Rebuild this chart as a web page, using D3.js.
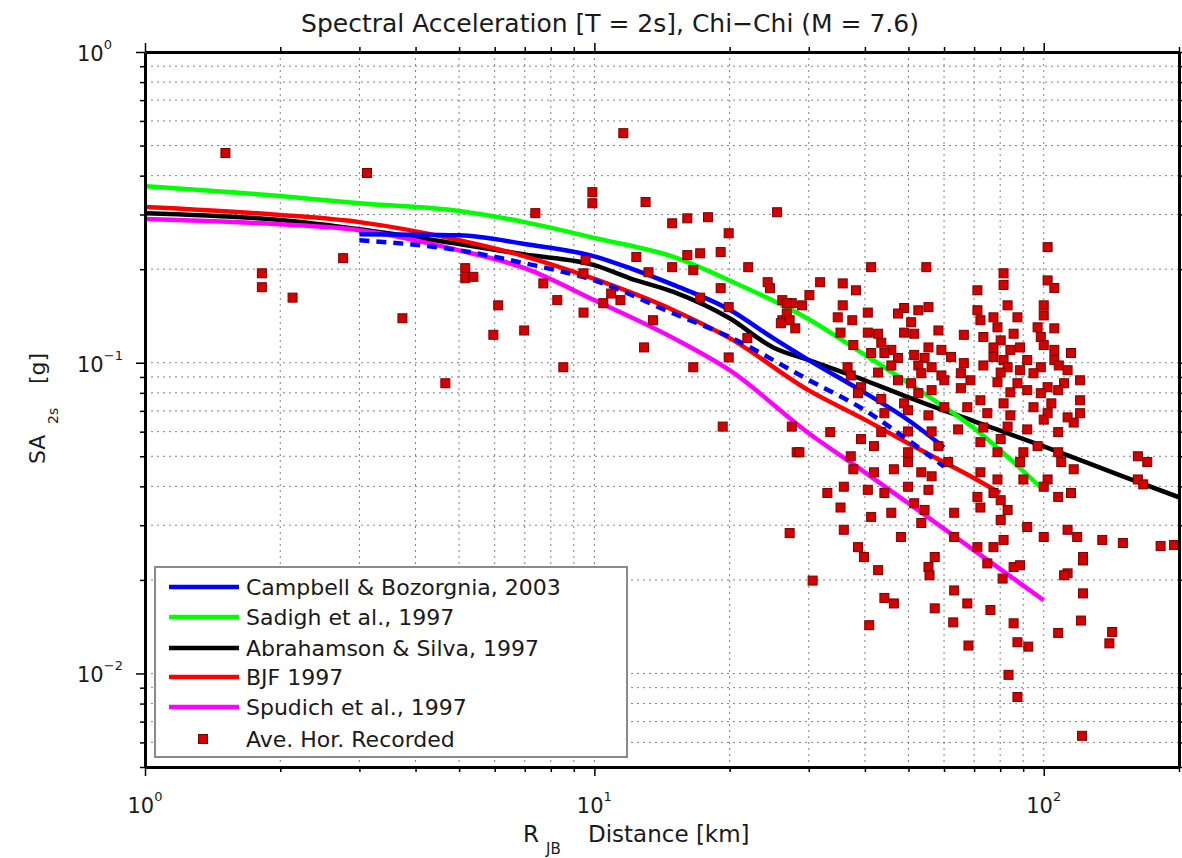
<!DOCTYPE html>
<html>
<head>
<meta charset="utf-8">
<script src="https://cdn.jsdelivr.net/npm/d3@7/dist/d3.min.js"></script>
<style>
  body { margin: 0; background: #fff; }
  svg text { font-family: "DejaVu Sans", "Open Sans", sans-serif; fill: #1a1a1a; }
</style>
</head>
<body>
<svg id="chart"></svg>
<script>
const W = 1182, H = 858
const margin = { top: 52, right: 3, bottom: 91, left: 145 }
const width = W - margin.left - margin.right
const height = H - margin.top - margin.bottom

// ---- data ----
const titleText = 'Spectral Acceleration [T = 2s], Chi\u2212Chi (M = 7.6)'
const xMajor = [1, 10, 100]
const yMajor = [0.01, 0.1, 1]
const xExp = ['0', '1', '2']
const yExp = ['\u22122', '\u22121', '0']

// Campbell & Bozorgnia 2003 (solid + dashed variant)
const cbDist = [3, 5, 7, 10, 12, 15, 20, 25, 30, 40, 50, 60]
const cbSA = [0.259, 0.257, 0.241, 0.220, 0.2015, 0.178, 0.148, 0.120, 0.102, 0.080, 0.0653, 0.0534]
const cbDashDist = [3, 5, 7, 10, 15, 20, 30, 40, 50, 60]
const cbDashSA = [0.248, 0.230, 0.209, 0.184, 0.144, 0.121, 0.088, 0.0703, 0.0563, 0.0463]
// Sadigh et al. 1997
const sadDist = [1, 2, 3, 5, 7, 10, 15, 20, 30, 40, 50, 70, 100]
const sadSA = [0.370, 0.344, 0.326, 0.308, 0.2835, 0.252, 0.219, 0.184, 0.138, 0.106, 0.086, 0.0615, 0.0389]
// Abrahamson & Silva 1997
const asDist = [1, 2, 3, 5, 7, 10, 12, 15, 20, 25, 30, 40, 50, 70, 100, 150, 200]
const asSA = [0.303, 0.288, 0.269, 0.241, 0.223, 0.206, 0.187, 0.169, 0.139, 0.112, 0.102, 0.0878, 0.0774, 0.0648, 0.0538, 0.0431, 0.0369]
// BJF 1997
const bjfDist = [1, 2, 3, 5, 7, 10, 15, 20, 30, 40, 50, 60, 70, 80]
const bjfSA = [0.317, 0.299, 0.2835, 0.248, 0.220, 0.186, 0.1476, 0.120, 0.0815, 0.0656, 0.0550, 0.0478, 0.0425, 0.0381]
// Spudich et al. 1997
const spuDist = [1, 2, 3, 5, 7, 10, 15, 20, 30, 40, 50, 70, 100]
const spuSA = [0.290, 0.279, 0.267, 0.230, 0.2015, 0.159, 0.120, 0.0946, 0.0593, 0.0444, 0.0353, 0.0249, 0.0172]

// recorded average horizontal SA [distance km, SA g]
const recorded = [
  [1.51,0.473],[3.12,0.408],[2.76,0.217],[1.82,0.194],[1.82,0.175],[2.13,0.162],[5.16,0.2015],[5.16,0.187],
  [3.74,0.139],[4.66,0.0859],[6.11,0.153],[5.96,0.123],[6.98,0.127],[7.70,0.180],[8.27,0.159],[9.46,0.145],
  [8.53,0.0967],[12.9,0.112],[16.6,0.0967],[19.3,0.0623],[27.5,0.0623],[28.2,0.0515],[27.2,0.0283],[13.5,0.137],
  [10.47,0.1555],[11.43,0.159],[17.2,0.162],[19.9,0.104],[21.9,0.120],[26.2,0.137],[5.38,0.189],[7.39,0.303],
  [9.9,0.354],[9.9,0.326],[11.6,0.548],[13.0,0.329],[14.9,0.281],[16.1,0.2915],[17.9,0.294],[25.5,0.305],
  [19.9,0.261],[12.4,0.219],[16.1,0.222],[17.2,0.225],[19.1,0.227],[14.9,0.203],[13.2,0.1955],[16.6,0.1985],
  [22.0,0.203],[24.3,0.1816],[24.6,0.1737],[19.1,0.1737],[19.9,0.151],[26.2,0.159],[27.5,0.1555],[26.8,0.144],
  [26.0,0.134],[28.0,0.129],[9.56,0.214],[9.46,0.194],[10.9,0.167],[102,0.2355],[41.3,0.203],[54.8,0.203],
  [31.8,0.1816],[35.7,0.180],[38.2,0.171],[71.2,0.171],[81.4,0.194],[81.4,0.178],[102,0.184],[105.6,0.174],
  [30.1,0.165],[26.8,0.1555],[29.0,0.153],[35.7,0.153],[40.6,0.145],[48.9,0.150],[52.6,0.1475],[55.4,0.151],
  [71.2,0.1475],[83.1,0.153],[100,0.153],[87.4,0.140],[77.3,0.140],[100,0.142],[27.2,0.137],[34.8,0.140],
  [37.5,0.137],[47.4,0.144],[50.7,0.135],[72.3,0.137],[78.9,0.130],[85.7,0.124],[96.9,0.130],[105.6,0.129],
  [35.3,0.125],[40.6,0.125],[42.8,0.124],[48.9,0.125],[51.5,0.124],[58.3,0.127],[66.4,0.123],[73.4,0.121],
  [80.2,0.118],[98.5,0.121],[37.7,0.114],[43.5,0.116],[45.8,0.110],[55.4,0.112],[59.2,0.110],[77.3,0.112],
  [84.3,0.110],[88.6,0.112],[100,0.114],[105.6,0.110],[115,0.1075],[41.3,0.1075],[44.2,0.1075],[47.4,0.1036],
  [51.5,0.106],[54.3,0.1036],[62.2,0.1044],[77.3,0.1044],[81.4,0.102],[91.9,0.102],[105.6,0.102],[36.6,0.0967],
  [45.8,0.098],[52.6,0.098],[56.3,0.0967],[66.4,0.0997],[73.4,0.098],[83.1,0.0967],[88.6,0.0946],[98.5,0.0967],
  [108,0.098],[37.2,0.091],[42.8,0.093],[53.4,0.0925],[59.2,0.091],[65.4,0.0925],[80.2,0.093],[94.9,0.0925],
  [113,0.0946],[39.2,0.0834],[47.4,0.0878],[50.7,0.0859],[60.1,0.0878],[68.7,0.0878],[78.9,0.0865],[87.4,0.0859],
  [102,0.0834],[111,0.0859],[120.5,0.0878],[38.6,0.0798],[43.5,0.0765],[52.6,0.0798],[56.3,0.0816],[65.4,0.0828],
  [72.3,0.0757],[84.3,0.0803],[91.9,0.0816],[98.5,0.0798],[107.7,0.0816],[120.5,0.0757],[48.9,0.074],[60.1,0.0719],
  [67.6,0.0719],[81.4,0.074],[94.9,0.0719],[104,0.074],[44.2,0.0688],[49.9,0.0703],[55.4,0.0677],[74.9,0.0688],
  [84.3,0.0677],[102,0.0688],[113,0.0667],[120.5,0.0688],[33.5,0.0598],[39.2,0.0568],[43.5,0.0598],[49.9,0.0601],
  [56.3,0.0601],[64.5,0.061],[73.4,0.0619],[83.1,0.0623],[91.9,0.061],[100,0.0656],[107.7,0.0598],[116.6,0.0642],
  [41.9,0.0539],[49.9,0.0515],[58.3,0.0539],[72.3,0.0555],[80.2,0.0568],[90.1,0.0515],[96.9,0.0539],[107.7,0.0515],
  [162,0.05],[170,0.0479],[28.6,0.0515],[37.2,0.05],[49.9,0.0479],[61.3,0.0479],[78.9,0.0515],[88.6,0.0479],
  [109.4,0.0479],[116.6,0.0454],[37.7,0.0454],[41.9,0.0444],[46.4,0.0454],[53.4,0.0444],[56.3,0.0431],[72.3,0.0444],
  [78.9,0.0421],[90.1,0.0421],[102,0.0421],[162,0.0421],[166.5,0.0406],[35.9,0.0399],[40.6,0.039],[44.2,0.0381],
  [49.9,0.0399],[55.4,0.039],[71.2,0.037],[77.3,0.0381],[80.2,0.0361],[100,0.0399],[107.7,0.037],[115,0.0381],
  [33.0,0.0381],[35.3,0.0342],[41.3,0.0319],[45.8,0.0329],[51.5,0.0353],[54.3,0.0336],[63.2,0.0329],[72.3,0.0342],
  [83.1,0.0336],[80.2,0.0312],[53.4,0.0305],[35.9,0.029],[48.1,0.0275],[63.2,0.0275],[71.2,0.0255],[77.3,0.0255],
  [81.4,0.0269],[91.9,0.0296],[100,0.0275],[113,0.029],[118.7,0.0275],[135,0.0269],[150,0.0263],[182,0.0257],
  [195,0.0259],[38.6,0.0255],[39.8,0.0237],[57.2,0.0237],[55.4,0.022],[74.9,0.0226],[85.7,0.022],[122.3,0.0237],
  [42.8,0.0215],[30.6,0.0199],[113,0.021],[63.2,0.0185],[44.2,0.0175],[46.4,0.0168],[67.6,0.0168],[76.1,0.016],
  [57.2,0.0162],[122.3,0.0181],[121,0.0148],[55.7,0.0207],[88.6,0.0223],[81,0.0202],[111,0.0207],[122.3,0.0231],
  [40.9,0.0143],[62.9,0.0146],[68,0.0123],[85.7,0.0145],[87.4,0.0126],[92.4,0.0122],[107.7,0.0135],[142,0.0136],
  [140,0.0125],[83.5,0.0099],[87.4,0.0084],[121.7,0.0063]
]

const legendLabels = ['Campbell & Bozorgnia, 2003', 'Sadigh et al., 1997', 'Abrahamson & Silva, 1997',
  'BJF 1997', 'Spudich et al., 1997', 'Ave. Hor. Recorded']
const legendColors = ['#0000ff', '#00ff00', '#000000', '#ff0000', '#ff00ff']

// ---- scales ----
const x = d3.scaleLog().domain([1, 200]).range([0, width])
const y = d3.scaleLog().domain([0.005, 1]).range([height, 0])

const xTicks = []
for (const dec of [1, 10, 100]) for (let m = 1; m <= 9; m++) if (m * dec <= 200) xTicks.push(m * dec)
const yTicks = []
for (const dec of [0.001, 0.01, 0.1]) for (let m = 1; m <= 9; m++) {
  const v = +(m * dec).toPrecision(3)
  if (v >= 0.005 && v <= 1) yTicks.push(v)
}
yTicks.push(1)
const isMajor = v => Math.abs(Math.log10(v) - Math.round(Math.log10(v))) < 1e-9

const svg = d3.select('#chart').attr('width', W).attr('height', H)
const g = svg.append('g').attr('transform', `translate(${margin.left},${margin.top})`)

g.append('clipPath').attr('id', 'clip')
  .append('rect').attr('width', width).attr('height', height)

// ---- grid ----
const grid = g.append('g').attr('stroke', '#808080').attr('stroke-width', 1).attr('stroke-dasharray', '2,4')
grid.selectAll('.gx').data(xTicks.filter(v => v > 1 && v < 200)).join('line')
  .attr('x1', d => x(d)).attr('x2', d => x(d)).attr('y1', 0).attr('y2', height)
grid.selectAll('.gy').data(yTicks.filter(v => v > 0.005 && v < 1)).join('line')
  .attr('y1', d => y(d)).attr('y2', d => y(d)).attr('x1', 0).attr('x2', width)

// ---- curves ----
const line = d3.line().x(d => x(d[0])).y(d => y(d[1])).curve(d3.curveMonotoneX)
const series = [
  { dist: asDist, sa: asSA, color: '#000000' },
  { dist: sadDist, sa: sadSA, color: '#00ff00' },
  { dist: bjfDist, sa: bjfSA, color: '#ff0000' },
  { dist: spuDist, sa: spuSA, color: '#ff00ff' },
  { dist: cbDist, sa: cbSA, color: '#0000ff' },
  { dist: cbDashDist, sa: cbDashSA, color: '#0000ff', dash: '10,7' }
]
const curves = g.append('g').attr('clip-path', 'url(#clip)')
curves.selectAll('path').data(series).join('path')
  .attr('d', s => line(s.dist.map((d, i) => [d, s.sa[i]])))
  .attr('fill', 'none')
  .attr('stroke', s => s.color)
  .attr('stroke-width', 4.5)
  .attr('stroke-dasharray', s => s.dash || null)

// ---- recorded points ----
g.append('g').attr('clip-path', 'url(#clip)')
  .selectAll('rect').data(recorded).join('rect')
  .attr('x', d => x(d[0]) - 4.5).attr('y', d => y(d[1]) - 4.5)
  .attr('width', 9).attr('height', 9)
  .attr('fill', '#d40000').attr('stroke', '#7a0000').attr('stroke-width', 1)

// ---- axes (outward ticks, minor shorter) ----
function styleAxis(sel, sign, horizontal) {
  sel.select('.domain').attr('stroke', '#000').attr('stroke-width', 3)
  sel.selectAll('.tick line').attr('stroke', '#000').attr('stroke-width', 1.5)
    .attr(horizontal ? 'y2' : 'x2', d => sign * (isMajor(d) ? 9 : 5))
  sel.selectAll('.tick text').remove()
}
g.append('g').attr('transform', `translate(0,${height})`)
  .call(d3.axisBottom(x).tickValues(xTicks).tickSizeOuter(0).tickFormat(''))
  .call(s => styleAxis(s, 1, true))
g.append('g')
  .call(d3.axisTop(x).tickValues(xTicks).tickSizeOuter(0).tickFormat(''))
  .call(s => styleAxis(s, -1, true))
g.append('g')
  .call(d3.axisLeft(y).tickValues(yTicks).tickSizeOuter(0).tickFormat(''))
  .call(s => styleAxis(s, -1, false))
g.append('g').attr('transform', `translate(${width},0)`)
  .call(d3.axisRight(y).tickValues(yTicks).tickSizeOuter(0).tickFormat(''))
  .call(s => styleAxis(s, 1, false))

// ---- tick labels ----
const xl = g.append('g').selectAll('text').data(xMajor).join('text')
  .attr('x', d => x(d)).attr('y', height + 46).attr('text-anchor', 'middle')
  .style('font-size', '21px')
xl.append('tspan').text('10')
xl.append('tspan').attr('dy', -12).style('font-size', '13px').text((d, i) => xExp[i])

const yl = g.append('g').selectAll('text').data(yMajor).join('text')
  .attr('x', 77 - margin.left).attr('y', d => y(d) + 9)
  .style('font-size', '21px')
yl.append('tspan').text('10')
yl.append('tspan').attr('dy', -12).style('font-size', '13px').text((d, i) => yExp[i])

// ---- titles ----
svg.append('text').attr('x', 610).attr('y', 32).attr('text-anchor', 'middle')
  .style('font-size', '25px').text(titleText)

const xt = svg.append('text').attr('y', 842).style('font-size', '23px')
xt.append('tspan').attr('x', 523).text('R')
xt.append('tspan').attr('x', 546).attr('dy', 12).style('font-size', '15px').text('JB')
xt.append('tspan').attr('x', 588).attr('dy', -12).text('Distance [km]')

const yt = svg.append('text').attr('transform', 'translate(45,0) rotate(-90)').style('font-size', '22px')
yt.append('tspan').attr('x', -464).text('SA')
yt.append('tspan').attr('x', -424).attr('dy', 13).style('font-size', '14px').text('2s')
yt.append('tspan').attr('x', -384).attr('dy', -13).text('[g]')

// ---- legend ----
const lg = svg.append('g')
lg.append('rect').attr('x', 155).attr('y', 567).attr('width', 472).attr('height', 190)
  .attr('fill', '#fff').attr('stroke', '#8a8a8a').attr('stroke-width', 2)
const rowY = [587, 617, 648, 677, 707, 739]
lg.selectAll('line').data(legendColors).join('line')
  .attr('x1', 169).attr('x2', 239).attr('y1', (d, i) => rowY[i]).attr('y2', (d, i) => rowY[i])
  .attr('stroke', d => d).attr('stroke-width', 4.5)
lg.append('rect').attr('x', 198.5).attr('y', rowY[5] - 4.5).attr('width', 9).attr('height', 9)
  .attr('fill', '#d40000').attr('stroke', '#7a0000').attr('stroke-width', 1)
lg.selectAll('text').data(legendLabels).join('text')
  .attr('x', 246).attr('y', (d, i) => rowY[i] + 8)
  .style('font-size', '22px').text(d => d)
</script>
</body>
</html>
